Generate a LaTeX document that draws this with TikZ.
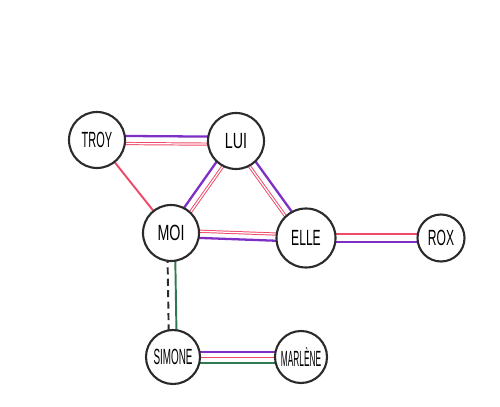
\documentclass[tikz,border=0pt]{standalone}
\usepackage{fontspec}
\setmainfont{Liberation Sans}
\usetikzlibrary{calc,backgrounds}
\definecolor{purp}{HTML}{7E2FC4}
\definecolor{pnk}{HTML}{F04A6A}
\definecolor{grn}{HTML}{2F7A50}
\definecolor{ink}{HTML}{2B2B2B}
\newcommand{\hand}[2][0.55]{\scalebox{#1}[1]{#2}}

\begin{document}
\begin{tikzpicture}[x=1cm,y=1cm,font=\fontsize{12.5}{12.5}\selectfont,
  person/.style={circle,draw=ink,line width=1.2pt,fill=white,minimum size=1.12cm,inner sep=0pt},
  purpline/.style={draw=purp,line width=1.3pt},
  pinkline/.style={draw=pnk,line width=1.1pt},
  pinkdouble/.style={draw=pnk,line width=0.55pt,double=white,double distance=0.7pt},
  greenline/.style={draw=grn,line width=1.1pt},
  dashline/.style={draw=ink,line width=1.1pt,dash pattern=on 4pt off 2.5pt}]
\useasboundingbox (0,0) rectangle (10,8.12);
\node[person] (troy) at (1.94,5.32) {\hand[0.5]{TROY}};
\node[person] (lui) at (4.72,5.30) {\hand[0.65]{LUI}};
\node[person] (moi) at (3.42,3.46) {\hand[0.65]{MOI}};
\node[person,minimum size=1.18cm] (elle) at (6.12,3.36) {\hand[0.55]{ELLE}};
\node[person,minimum size=0.94cm] (rox) at (8.82,3.36) {\hand[0.55]{ROX}};
\node[person,minimum size=1.08cm] (simone) at (3.46,0.98) {\hand[0.45]{SIMONE}};
\node[person,minimum size=1.04cm] (marlene) at (6.02,0.98) {\hand[0.38]{MARLÈNE}};
% parallel strokes, one per tie
\begin{scope}[on background layer]
\foreach \a/\b/\sty/\off in {troy/lui/purpline/2.4, troy/lui/pinkdouble/-1.9,
  troy/moi/pinkline/0,
  moi/lui/purpline/2.2, moi/lui/pinkdouble/-2.2,
  lui/elle/purpline/2.2, lui/elle/pinkdouble/-2.2,
  moi/elle/pinkdouble/1.6, moi/elle/purpline/-2.2,
  elle/rox/pinkline/2.4, elle/rox/purpline/-2.2,
  moi/simone/greenline/2.2, moi/simone/dashline/-2.2,
  simone/marlene/purpline/2.8, simone/marlene/pinkline/-0.3, simone/marlene/greenline/-3.4}
  \draw[\sty] ($(\a)!\off pt!90:(\b)$) -- ($(\b)!\off pt!-90:(\a)$);
\end{scope}
\end{tikzpicture}
\end{document}
